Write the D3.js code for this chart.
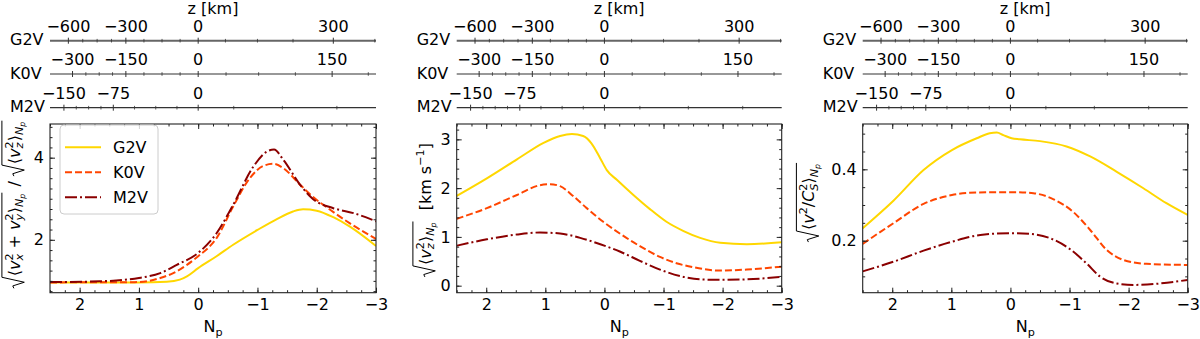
<!DOCTYPE html>
<html>
<head>
<meta charset="utf-8">
<script src="https://cdn.jsdelivr.net/npm/d3@7"></script>
<style>
  body { margin: 0; background: #fff; }
  svg { font-family: "DejaVu Sans", sans-serif; }
</style>
</head>
<body>
<svg id="chart" width="1200" height="339"></svg>
<script>
// ---- data ----
var stars = ["G2V", "K0V", "M2V"];

// panel 1: sqrt(<vx2+vy2>) / sqrt(<vz2>)
var p1_g2v_np = [2.5, 1.0, 0.53, 0.31, 0.19, 0.0, -0.31, -0.59, -1.0, -1.32, -1.6, -1.77, -2.0, -2.28, -2.56, -3.0];
var p1_g2v_v  = [0.963, 0.963, 0.98, 1.03, 1.11, 1.31, 1.6, 1.88, 2.24, 2.5, 2.69, 2.745, 2.71, 2.55, 2.32, 1.85];
var p1_k0v_np = [2.5, 1.0, 0.64, 0.42, 0.19, 0.0, -0.31, -0.59, -0.87, -1.1, -1.27, -1.44, -1.72, -1.94, -2.17, -2.56, -3.0];
var p1_k0v_v  = [0.963, 0.97, 1.07, 1.19, 1.39, 1.6, 2.04, 2.81, 3.5, 3.8, 3.85, 3.74, 3.34, 3.04, 2.79, 2.4, 2.02];
var p1_m2v_np = [2.5, 1.66, 1.0, 0.64, 0.36, 0.0, -0.31, -0.59, -0.93, -1.16, -1.28, -1.44, -1.72, -1.94, -2.28, -2.62, -3.0];
var p1_m2v_v  = [0.97, 0.99, 1.07, 1.19, 1.39, 1.68, 2.16, 2.85, 3.78, 4.15, 4.2, 3.94, 3.34, 2.99, 2.77, 2.65, 2.45];

// panel 2: sqrt(<vz2>) [km/s]
var p2_g2v_np = [2.5, 1.99, 1.48, 1.03, 0.75, 0.55, 0.36, 0.22, 0.07, -0.04, -0.21, -0.49, -0.77, -1.05, -1.34, -1.62, -1.96, -2.41, -3.0];
var p2_g2v_v  = [1.84, 2.2, 2.59, 2.93, 3.07, 3.11, 3.07, 2.92, 2.61, 2.37, 2.17, 1.86, 1.57, 1.31, 1.12, 0.98, 0.88, 0.85, 0.89];
var p2_k0v_np = [2.5, 1.99, 1.48, 1.09, 0.92, 0.75, 0.53, 0.3, 0.02, -0.26, -0.6, -0.94, -1.22, -1.5, -1.96, -2.41, -3.0];
var p2_k0v_v  = [1.37, 1.59, 1.86, 2.06, 2.08, 2.04, 1.84, 1.59, 1.31, 1.07, 0.81, 0.59, 0.46, 0.38, 0.31, 0.33, 0.39];
var p2_m2v_np = [2.5, 1.99, 1.48, 1.09, 0.75, 0.41, 0.07, -0.26, -0.6, -0.94, -1.34, -1.62, -1.96, -2.41, -3.0];
var p2_m2v_v  = [0.82, 0.95, 1.05, 1.09, 1.07, 0.98, 0.85, 0.7, 0.51, 0.33, 0.18, 0.13, 0.12, 0.13, 0.18];

// panel 3: sqrt(<v2/cs2>)
var p3_g2v_np = [2.5, 1.98, 1.47, 0.99, 0.57, 0.35, 0.23, 0.12, -0.02, -0.16, -0.5, -0.95, -1.35, -1.8, -2.25, -2.64, -3.0];
var p3_g2v_v  = [0.235, 0.312, 0.398, 0.454, 0.487, 0.501, 0.503, 0.496, 0.487, 0.484, 0.479, 0.464, 0.436, 0.393, 0.347, 0.305, 0.272];
var p3_k0v_np = [2.5, 1.98, 1.47, 0.99, 0.57, -0.05, -0.39, -0.73, -1.06, -1.35, -1.63, -1.91, -2.3, -3.0];
var p3_k0v_v  = [0.191, 0.249, 0.303, 0.328, 0.335, 0.336, 0.333, 0.316, 0.281, 0.23, 0.174, 0.146, 0.135, 0.132];
var p3_m2v_np = [2.5, 1.98, 1.47, 0.99, 0.51, 0.01, -0.33, -0.67, -1.01, -1.29, -1.52, -1.8, -2.08, -2.53, -3.0];
var p3_m2v_v  = [0.114, 0.141, 0.172, 0.197, 0.216, 0.221, 0.219, 0.207, 0.176, 0.136, 0.099, 0.08, 0.076, 0.08, 0.09];

// x ticks (Np)
var npTicks = [2, 1, 0, -1, -2, -3];

// z [km] secondary axes: z values and the Np where they sit
var g2v_zKnots  = [-600, -300, 0, 75, 150, 225, 300, 375];
var g2v_npKnots = [2.19, 1.22, 0, -0.46, -1.0, -1.6, -2.28, -2.98];
var g2v_major   = [-600, -300, 0, 300];
var g2v_minor   = [-525, -450, -375, -225, -150, -75, 75, 150, 225, 375];
var k0v_zKnots  = [-300, -150, 0, 37.5, 75, 112.5, 150, 187.5];
var k0v_npKnots = [2.12, 1.22, 0, -0.47, -1.02, -1.64, -2.26, -2.87];
var k0v_major   = [-300, -150, 0, 150];
var k0v_minor   = [-262.5, -225, -187.5, -112.5, -75, -37.5, 37.5, 75, 112.5, 187.5];
var m2v_zKnots  = [-150, -75, 0, 18.75, 37.5, 56.25];
var m2v_npKnots = [2.265, 1.432, 0, -0.6, -1.42, -2.34];
var m2v_major   = [-150, -75, 0];
var m2v_minor   = [-131.25, -112.5, -93.75, -56.25, -37.5, -18.75, 18.75, 37.5, 56.25];

var colors = {G2V: "#ffd700", K0V: "#ff4500", M2V: "#8b0000"};
var dashes = {G2V: null, K0V: "7,3", M2V: "12,3,2,3"};

// ---- layout ----
var svg = d3.select("#chart");
var plotTop = 124, plotBottom = 292.7;
var fs = 16;

var Np = {sub: [{it: "N"}, {sub: [{it: "p"}]}]};

var panels = [
  {left: 50, right: 376, ydom: [0.712, 4.82], yticks: [2, 4], yminor: 0.25, fmt: d3.format("d"),
   series: [[p1_g2v_np, p1_g2v_v], [p1_k0v_np, p1_k0v_v], [p1_m2v_np, p1_m2v_v]], legend: true,
   labelX: 19.5, labelY: 204,
   label: [{sqrt: ["⟨", {it: "v"}, {sub: [{it: "x"}], sup: ["2"]}, " + ", {it: "v"}, {sub: [{it: "y"}], sup: ["2"]}, "⟩", Np]},
           " / ",
           {sqrt: ["⟨", {it: "v"}, {sub: [{it: "z"}], sup: ["2"]}, "⟩", Np]}]},
  {left: 456.7, right: 781.7, ydom: [-0.144, 3.315], yticks: [0, 1, 2, 3], yminor: 0.2, fmt: d3.format("d"),
   series: [[p2_g2v_np, p2_g2v_v], [p2_k0v_np, p2_k0v_v], [p2_m2v_np, p2_m2v_v]],
   labelX: 430.5, labelY: 210,
   label: [{sqrt: ["⟨", {it: "v"}, {sub: [{it: "z"}], sup: ["2"]}, "⟩", Np]},
           "  [km s", {sup: ["−1"]}, "]"]},
  {left: 862.7, right: 1187.7, ydom: [0.0542, 0.527], yticks: [0.2, 0.4], yminor: 0.05, fmt: d3.format(".1f"),
   series: [[p3_g2v_np, p3_g2v_v], [p3_k0v_np, p3_k0v_v], [p3_m2v_np, p3_m2v_v]],
   labelX: 814, labelY: 202,
   label: [{sqrt: ["⟨", {it: "v"}, {sup: ["2"]}, "/", {it: "C"}, {sub: [{it: "S"}], sup: ["2"]}, "⟩", Np]}]}
];

var zAxes = [
  {name: "G2V", y: 40.7, knots: [g2v_zKnots, g2v_npKnots], major: g2v_major, minor: g2v_minor, sw: 2, col: "#666"},
  {name: "K0V", y: 74, knots: [k0v_zKnots, k0v_npKnots], major: k0v_major, minor: k0v_minor, sw: 1.2, col: "#333"},
  {name: "M2V", y: 107.7, knots: [m2v_zKnots, m2v_npKnots], major: m2v_major, minor: m2v_minor, sw: 1.2, col: "#333"}
];

function minus(s) { return String(s).replace("-", "−"); }

// place a piece of text, return the new x
function put(g, s, x, y, size, italic) {
  var t = g.append("text").attr("x", x).attr("y", y)
    .attr("font-size", size)
    .attr("font-style", italic ? "italic" : "normal")
    .attr("fill", "#000")
    .style("white-space", "pre")
    .text(s);
  return x + t.node().getComputedTextLength();
}

// tiny mathtext-like layout
function layout(g, toks, x, y, size) {
  toks.forEach(function(t) {
    if (typeof t === "string") {
      x = put(g, t, x, y, size, false);
    } else if (t.it) {
      x = put(g, t.it, x, y, size, true);
    } else if (t.sqrt) {
      var x0 = x;
      var rw = size * 0.75;
      var inner = layout(g, t.sqrt, x0 + rw, y, size);
      var topY = y - size * 1.1;
      g.append("path")
        .attr("d", "M" + x0 + "," + (y - size * 0.35) +
                   "L" + (x0 + size * 0.15) + "," + (y - size * 0.42) +
                   "L" + (x0 + size * 0.38) + "," + (y + size * 0.3) +
                   "L" + (x0 + rw * 0.92) + "," + topY +
                   "L" + (inner + 1) + "," + topY)
        .attr("fill", "none").attr("stroke", "#000").attr("stroke-width", 1);
      x = inner + 2;
    } else {
      var xe = x;
      if (t.sup) xe = Math.max(xe, layout(g, t.sup, x, y - size * 0.42, size * 0.7));
      if (t.sub) xe = Math.max(xe, layout(g, t.sub, x, y + size * 0.22, size * 0.7));
      x = xe;
    }
  });
  return x;
}

panels.forEach(function(p, pi) {
  var x = d3.scaleLinear().domain([2.5, -3]).range([p.left, p.right]);
  var y = d3.scaleLinear().domain(p.ydom).range([plotBottom, plotTop]);
  var g = svg.append("g");
  var xMinor = d3.range(2.5, -3.01, -0.25);
  var yMinor = d3.range(Math.ceil(p.ydom[0] / p.yminor) * p.yminor, p.ydom[1], p.yminor);

  // clip
  svg.append("clipPath").attr("id", "clip" + pi)
    .append("rect").attr("x", p.left).attr("y", plotTop)
    .attr("width", p.right - p.left).attr("height", plotBottom - plotTop);

  // curves
  var line = d3.line().x(function(d) { return x(d[0]); }).y(function(d) { return y(d[1]); })
    .curve(d3.curveMonotoneX);
  p.series.forEach(function(s, si) {
    var pts = s[0].map(function(n, i) { return [n, s[1][i]]; });
    g.append("path").datum(pts)
      .attr("d", line)
      .attr("clip-path", "url(#clip" + pi + ")")
      .attr("fill", "none")
      .attr("stroke", colors[stars[si]])
      .attr("stroke-width", 2)
      .attr("stroke-dasharray", dashes[stars[si]]);
  });

  // axes (ticks inward, all four sides)
  function ax(axis, tx, ty, vals, size, labels, pad) {
    var a = axis.tickValues(vals).tickSizeInner(size).tickSizeOuter(0).tickPadding(pad || 6);
    if (!labels) a.tickFormat("");
    var sel = g.append("g").attr("transform", "translate(" + tx + "," + ty + ")").call(a);
    sel.select(".domain").remove();
    sel.selectAll("line").attr("stroke", "#222");
    sel.selectAll("text").attr("font-size", fs).attr("fill", "#000").attr("font-family", "DejaVu Sans, sans-serif");
    return sel;
  }
  ax(d3.axisBottom(x).tickFormat(minus), 0, plotBottom, npTicks, -5, true, 6);
  ax(d3.axisBottom(x), 0, plotBottom, xMinor, -2.5, false);
  ax(d3.axisTop(x), 0, plotTop, npTicks, -5, false);
  ax(d3.axisTop(x), 0, plotTop, xMinor, -2.5, false);
  ax(d3.axisLeft(y).tickFormat(p.fmt), p.left, 0, p.yticks, -5, true, 6);
  ax(d3.axisLeft(y), p.left, 0, yMinor, -2.5, false);
  ax(d3.axisRight(y), p.right, 0, p.yticks, -5, false);
  ax(d3.axisRight(y), p.right, 0, yMinor, -2.5, false);

  g.append("rect").attr("x", p.left).attr("y", plotTop)
    .attr("width", p.right - p.left).attr("height", plotBottom - plotTop)
    .attr("fill", "none").attr("stroke", "#222").attr("stroke-width", 1.1);

  // x label N_p
  var xl = g.append("g");
  var w = layout(xl, ["N", {sub: ["p"]}], 0, 0, fs);
  xl.attr("transform", "translate(" + ((p.left + p.right) / 2 - w / 2) + ",332)");

  // y label
  var yl = g.append("g");
  var lw = layout(yl, p.label, 0, 0, fs);
  yl.attr("transform", "translate(" + p.labelX + "," + p.labelY + ") rotate(-90) translate(" + (-lw / 2) + ",0)");

  // z [km] axes above
  g.append("text").attr("x", (p.left + p.right) / 2).attr("y", 13.5)
    .attr("text-anchor", "middle").attr("font-size", fs).text("z [km]");
  zAxes.forEach(function(z) {
    var zs = d3.scaleLinear().domain(z.knots[0]).range(z.knots[1]);
    g.append("line").attr("x1", p.left).attr("x2", p.right).attr("y1", z.y).attr("y2", z.y)
      .attr("stroke", z.col).attr("stroke-width", z.sw);
    g.selectAll(null).data(z.minor).enter().append("line")
      .attr("x1", function(d) { return x(zs(d)); }).attr("x2", function(d) { return x(zs(d)); })
      .attr("y1", z.y - 1.8).attr("y2", z.y + 1.8)
      .attr("stroke", "#333").attr("stroke-width", 0.8);
    g.selectAll(null).data(z.major).enter().append("line")
      .attr("x1", function(d) { return x(zs(d)); }).attr("x2", function(d) { return x(zs(d)); })
      .attr("y1", z.y - 3).attr("y2", z.y + 3)
      .attr("stroke", "#333").attr("stroke-width", 1);
    g.selectAll(null).data(z.major).enter().append("text")
      .attr("x", function(d) { return x(zs(d)); }).attr("y", z.y - 9)
      .attr("text-anchor", "middle").attr("font-size", fs)
      .text(function(d) { return minus(d); });
    g.append("text").attr("x", p.left - 40).attr("y", z.y + 4.7)
      .attr("font-size", fs).text(z.name);
  });

  // legend
  if (p.legend) {
    var lg = g.append("g");
    lg.append("rect").attr("x", 60).attr("y", 125).attr("width", 98).attr("height", 89).attr("rx", 4)
      .attr("fill", "#fff").attr("fill-opacity", 0.8).attr("stroke", "#ccc");
    stars.forEach(function(s, i) {
      var ly = 147.3 + i * 25;
      lg.append("line").attr("x1", 65).attr("x2", 101).attr("y1", ly).attr("y2", ly)
        .attr("stroke", colors[s]).attr("stroke-width", 2).attr("stroke-dasharray", dashes[s]);
      lg.append("text").attr("x", 113).attr("y", ly + 6).attr("font-size", fs).text(s);
    });
  }
});
</script>
</body>
</html>
